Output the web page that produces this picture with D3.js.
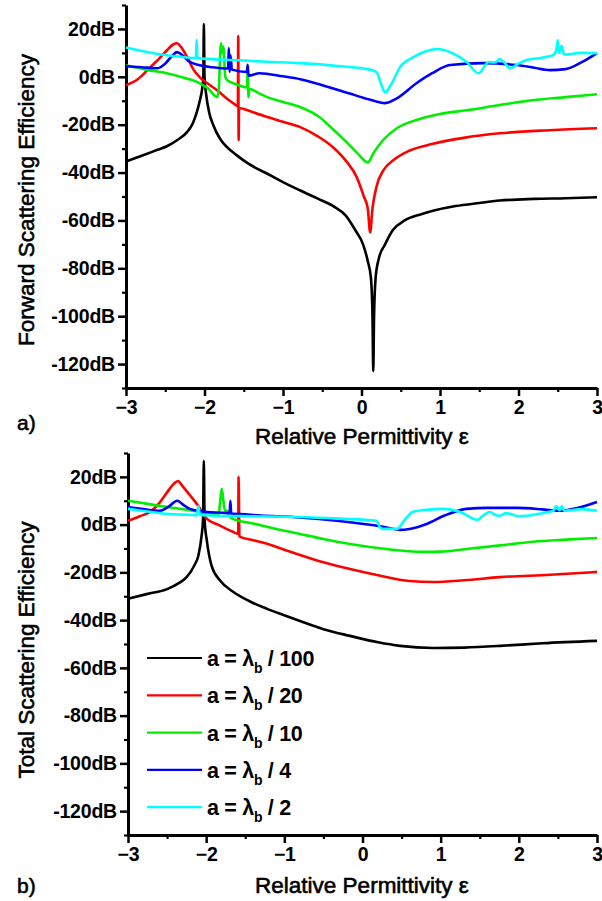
<!DOCTYPE html>
<html><head><meta charset="utf-8">
<script src="https://cdn.jsdelivr.net/npm/d3@7"></script>
<style>
html,body{margin:0;padding:0;background:#fff;}
svg{display:block;}
.tick text{font-family:"Liberation Sans",Arial,sans-serif;}
</style></head>
<body>
<svg id="chart" width="602" height="901"></svg>
<script>
// ---------- data (relative permittivity ε, dB) ----------
const seriesLabels = ["100", "20", "10", "4", "2"];
const seriesColors = ["#000000", "#ff0000", "#00ee00", "#0000ff", "#00ffff"];
const yTickValues = [20, 0, -20, -40, -60, -80, -100, -120];
const xTickValues = [-3, -2, -1, 0, 1, 2, 3];

// Forward scattering efficiency (panel a)
const fwdL100 = [[-3,-35.4],[-2.8,-33],[-2.6,-30.5],[-2.48,-29],[-2.35,-26.5],[-2.22,-23],[-2.15,-19.5],[-2.10,-15],[-2.06,-10],[-2.03,-5],[-2.015,0],[-2.008,22],[-2.0,0],[-1.98,-7],[-1.94,-15],[-1.89,-20],[-1.80,-26],[-1.71,-29.5],[-1.6,-32.5],[-1.48,-35.4],[-1.35,-38],[-1.2,-40.5],[-1.0,-44],[-0.78,-47.5],[-0.55,-51],[-0.36,-54],[-0.2,-58],[-0.08,-64],[0.02,-70],[0.08,-77],[0.12,-84],[0.14,-100],[0.15,-123],[0.16,-100],[0.18,-84],[0.22,-76],[0.30,-70],[0.40,-64],[0.55,-60],[0.75,-57.5],[0.91,-56],[1.2,-54],[1.5,-52.7],[1.76,-51.7],[2.2,-51],[2.6,-50.7],[3.0,-50.3]];
const fwdL20 = [[-3,-3.5],[-2.85,-1],[-2.69,4],[-2.55,8.5],[-2.48,11],[-2.4,13.5],[-2.35,14],[-2.3,12.5],[-2.22,8.2],[-2.14,3],[-2.06,-0.2],[-1.95,-3],[-1.84,-5.6],[-1.7,-9.5],[-1.6,-11.8],[-1.575,-12.3],[-1.57,17],[-1.565,-26.5],[-1.56,-13],[-1.45,-14],[-1.38,-14.8],[-1.2,-16.8],[-1.0,-18.8],[-0.78,-21],[-0.55,-25],[-0.36,-29.5],[-0.2,-35],[-0.06,-42],[0.03,-50],[0.08,-55],[0.11,-65],[0.14,-55],[0.19,-46],[0.28,-39],[0.40,-35],[0.6,-31],[0.91,-28],[1.3,-25.5],[1.76,-23.6],[2.4,-22.3],[3.0,-21.5]];
const fwdL10 = [[-3,4.8],[-2.75,3],[-2.48,1.5],[-2.25,-0.5],[-2.06,-2.7],[-1.95,-5],[-1.84,-8.5],[-1.82,-6],[-1.79,14],[-1.775,10],[-1.76,12.5],[-1.735,0],[-1.71,-1.4],[-1.6,-3],[-1.46,-4.4],[-1.45,4],[-1.44,-8.5],[-1.43,-5],[-1.3,-7],[-1.2,-8.5],[-1.0,-10.5],[-0.78,-12.7],[-0.55,-16.5],[-0.36,-22],[-0.2,-27],[-0.05,-32],[0.08,-35.8],[0.15,-32],[0.27,-26.6],[0.45,-21.5],[0.70,-18],[1.0,-15.5],[1.34,-14],[1.76,-11.8],[2.18,-9.8],[2.6,-8.5],[3.0,-7.3]];
const fwdL4 = [[-3,4.4],[-2.8,4],[-2.6,3.6],[-2.5,5.5],[-2.42,8.5],[-2.35,10.3],[-2.28,9],[-2.2,6.5],[-2.06,4.8],[-1.9,4],[-1.70,3.5],[-1.69,12],[-1.68,2],[-1.67,9],[-1.65,3],[-1.46,2],[-1.45,5],[-1.44,0.5],[-1.3,1.5],[-1.0,0.2],[-0.78,-1.0],[-0.5,-3.5],[-0.15,-7],[0.1,-9.5],[0.3,-11],[0.45,-9],[0.70,-2.7],[0.9,1.5],[1.13,4.9],[1.55,5.7],[1.98,4.9],[2.2,3.8],[2.40,2.8],[2.6,3.2],[2.8,6],[3.0,9.9]];
const fwdL2 = [[-3,12.3],[-2.75,10.5],[-2.48,9],[-2.25,8.2],[-2.11,7.8],[-2.10,15.5],[-2.09,7.8],[-1.9,7.4],[-1.64,7],[-1.2,6.3],[-0.78,5.7],[-0.3,4.5],[0.1,3],[0.19,2],[0.25,-3],[0.30,-6.5],[0.38,-3],[0.49,4],[0.65,8],[0.8,10.5],[0.96,11.6],[1.15,10],[1.34,6.2],[1.49,1.5],[1.62,6.2],[1.70,6],[1.76,7.4],[1.82,6],[1.89,3.6],[2.0,5.5],[2.1,7],[2.3,8],[2.44,9],[2.48,11],[2.50,15.3],[2.52,10],[2.55,13],[2.58,9.3],[2.8,10],[3.0,9.9]];

// Total scattering efficiency (panel b)
const totL100 = [[-3,-31],[-2.75,-29],[-2.5,-27],[-2.35,-24.5],[-2.25,-22],[-2.15,-17],[-2.1,-13],[-2.06,-5],[-2.04,2],[-2.03,26.7],[-2.02,2],[-1.99,-7],[-1.93,-17.3],[-1.82,-23.5],[-1.66,-28],[-1.45,-32],[-1.22,-35.3],[-1.0,-38],[-0.8,-40.4],[-0.5,-43.8],[-0.16,-46.6],[0.2,-49.3],[0.48,-50.8],[0.9,-51.7],[1.3,-51.5],[1.76,-50.8],[2.3,-49.7],[3.0,-48.7]];
const totL20 = [[-3,1.6],[-2.85,3.5],[-2.72,5.3],[-2.6,9],[-2.5,13.5],[-2.4,17.5],[-2.36,18.3],[-2.3,16],[-2.2,12],[-2.12,8.7],[-1.99,2.4],[-1.85,0],[-1.66,-3],[-1.59,-3.9],[-1.585,20],[-1.575,-4.5],[-1.57,-5],[-1.4,-6.5],[-1.22,-8],[-1.0,-10.5],[-0.8,-12.7],[-0.5,-15.8],[-0.16,-18.6],[0.2,-21.2],[0.6,-23.6],[0.9,-24],[1.3,-23.3],[1.76,-22],[2.4,-21],[3.0,-19.8]];
const totL10 = [[-3,10],[-2.75,8.7],[-2.5,7.4],[-2.25,6.2],[-2.08,5.3],[-1.9,4.5],[-1.84,4.2],[-1.82,10],[-1.80,15],[-1.78,10],[-1.76,6],[-1.73,5.8],[-1.70,3.5],[-1.66,2.4],[-1.4,0.5],[-1.1,-1.8],[-0.8,-3.9],[-0.5,-6],[-0.16,-8.1],[0.3,-10.2],[0.77,-11.4],[1.0,-11.3],[1.33,-10.2],[1.76,-8.7],[2.18,-7.2],[2.6,-6.3],[3.0,-5.6]];
const totL4 = [[-3,7.4],[-2.8,6.5],[-2.59,5.8],[-2.48,7.5],[-2.37,10],[-2.3,8.5],[-2.21,6.6],[-1.99,5.3],[-1.8,5],[-1.70,4.8],[-1.69,10],[-1.68,4.5],[-1.66,4.5],[-1.3,3.8],[-0.8,3],[-0.3,1.5],[0.26,-0.9],[0.48,-2.2],[0.6,-1.8],[0.82,0.3],[1.05,3.8],[1.33,6.6],[1.6,7],[1.97,7],[2.3,6.4],[2.52,5.8],[2.75,7],[3.0,9.5]];
const totL2 = [[-3,6.6],[-2.75,5.5],[-2.5,4.5],[-2.3,4.2],[-2.12,4],[-2.1,7.8],[-2.08,4],[-1.86,3.7],[-1.4,3.5],[-0.8,3.2],[-0.3,2.5],[0.18,1.6],[0.22,-1],[0.26,-1.8],[0.44,-1.8],[0.54,2],[0.64,5.3],[0.85,6.3],[1.03,6.6],[1.25,5.3],[1.47,2],[1.55,4],[1.63,5.3],[1.70,4],[1.76,3.7],[1.83,4.8],[1.89,4.5],[2.0,3.5],[2.1,3.7],[2.3,4.8],[2.44,5.8],[2.48,7.8],[2.52,6],[2.55,7.8],[2.58,5.8],[2.8,6.5],[3.0,5.8]];

const fwdSeries = [fwdL100, fwdL20, fwdL10, fwdL4, fwdL2];
const totSeries = [totL100, totL20, totL10, totL4, totL2];

// ---------- drawing ----------
const svg = d3.select("#chart");
const FONT = '"Liberation Sans", Arial, Helvetica, sans-serif';

function panel(cfg) {
  const x = d3.scaleLinear().domain([-3, 3]).range([cfg.left, 597]);
  const y = d3.scaleLinear().domain([-130, 30]).range([cfg.bottom, cfg.top]);
  const g = svg.append("g");

  // minor ticks
  g.append("g").attr("transform", `translate(${cfg.left},0)`)
    .call(d3.axisLeft(y).tickValues(d3.range(-130, 31, 20)).tickSize(4).tickSizeOuter(0).tickFormat(""))
    .call(s => s.select(".domain").remove())
    .call(s => s.selectAll("line").attr("stroke-width", 2.2));
  g.append("g").attr("transform", `translate(0,${cfg.bottom})`)
    .call(d3.axisBottom(x).tickValues([-2.5, -1.5, -0.5, 0.5, 1.5, 2.5]).tickSize(4).tickSizeOuter(0).tickFormat(""))
    .call(s => s.select(".domain").remove())
    .call(s => s.selectAll("line").attr("stroke-width", 2.2));

  // major axes
  const ya = g.append("g").attr("transform", `translate(${cfg.left},0)`)
    .call(d3.axisLeft(y).tickValues(yTickValues).tickSize(8).tickPadding(3).tickSizeOuter(0).tickFormat(d => d + "dB"));
  const xa = g.append("g").attr("transform", `translate(0,${cfg.bottom})`)
    .call(d3.axisBottom(x).tickValues(xTickValues).tickSize(8).tickPadding(4).tickSizeOuter(0).tickFormat(d3.format("d")));
  [ya, xa].forEach(a => {
    a.select(".domain").attr("stroke-width", 3);
    a.selectAll(".tick line").attr("stroke-width", 2.5);
    a.selectAll(".tick text").attr("font-size", 19.5).attr("font-weight", "bold")
      .attr("letter-spacing", "-0.2px").attr("fill", "#000");
  });

  // curves
  const line = d3.line().curve(d3.curveMonotoneX).x(d => x(d[0])).y(d => y(d[1]));
  cfg.series.forEach((s, i) => {
    g.append("path").datum(s)
      .attr("fill", "none")
      .attr("stroke", seriesColors[i])
      .attr("stroke-width", 2.6)
      .attr("stroke-linejoin", "round")
      .attr("d", line);
  });

  // titles
  g.append("text")
    .attr("transform", `translate(34,${cfg.ytitleY}) rotate(-90)`)
    .attr("text-anchor", "middle")
    .attr("font-family", FONT).attr("font-size", 22.5)
    .attr("stroke", "#000").attr("stroke-width", 0.6)
    .text(cfg.ytitle);
  g.append("text")
    .attr("x", 362).attr("y", cfg.xtitleY)
    .attr("text-anchor", "middle")
    .attr("font-family", FONT).attr("font-size", 22.5)
    .attr("stroke", "#000").attr("stroke-width", 0.6)
    .text("Relative Permittivity ε");
  g.append("text")
    .attr("x", 17).attr("y", cfg.tagY)
    .attr("font-family", FONT).attr("font-size", 21)
    .attr("stroke", "#000").attr("stroke-width", 0.6)
    .text(cfg.tag);
  return {x, y, g};
}

panel({left: 126, top: 5, bottom: 388, series: fwdSeries,
  ytitle: "Forward Scattering Efficiency", ytitleY: 200, xtitleY: 444, tag: "a)", tagY: 430});
panel({left: 128, top: 453, bottom: 835, series: totSeries,
  ytitle: "Total Scattering Efficiency", ytitleY: 650, xtitleY: 893, tag: "b)", tagY: 893});

// legend (panel b)
const leg = svg.append("g");
seriesLabels.forEach((lab, i) => {
  const yy = 658 + i * 37.3;
  leg.append("line").attr("x1", 147).attr("x2", 202).attr("y1", yy).attr("y2", yy)
    .attr("stroke", seriesColors[i]).attr("stroke-width", 2.2);
  const t = leg.append("text").attr("x", 207).attr("y", yy + 8)
    .attr("font-family", FONT).attr("font-size", 21.5).attr("font-weight", "bold")
    .attr("letter-spacing", "-0.3px");
  t.append("tspan").text("a = λ");
  t.append("tspan").attr("dy", 7).attr("font-size", 14).text("b");
  t.append("tspan").attr("dy", -7).text(" / " + lab);
});
</script>
</body></html>
